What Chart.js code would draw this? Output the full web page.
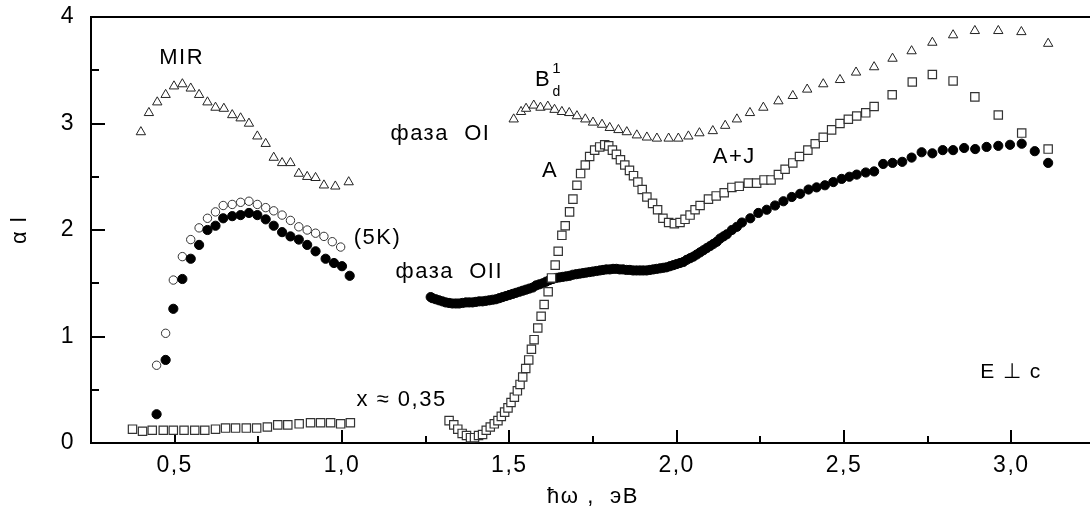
<!DOCTYPE html>
<html><head><meta charset="utf-8">
<script src="https://cdn.jsdelivr.net/npm/chart.js@4.4.0/dist/chart.umd.min.js"></script>
<style>
html,body{margin:0;padding:0;background:#fff;overflow:hidden;}
#wrap{position:relative;width:1100px;height:515px;}
</style></head><body>
<div id="wrap"><canvas id="c"></canvas></div>
<script>
// ---- tick values / labels ----
const xTickValues = [0.5, 1.0, 1.5, 2.0, 2.5, 3.0];
const xTickLabels = ['0,5', '1,0', '1,5', '2,0', '2,5', '3,0'];
const xMinorTicks = [0.75, 1.25, 1.75, 2.25, 2.75];
const yTickValues = [0, 1, 2, 3, 4];
const yTickLabels = ['0', '1', '2', '3', '4'];
const yMinorTicks = [0.5, 1.5, 2.5, 3.5];

// ---- series (x = ħω in eV, y = αl) ----
const trianglePoints = [
  [0.399,2.92],[0.423,3.10],[0.448,3.20],[0.473,3.27],[0.498,3.35],[0.523,3.37],[0.548,3.33],
  [0.573,3.27],[0.598,3.20],[0.622,3.15],[0.647,3.14],[0.672,3.08],[0.697,3.05],[0.722,3.00],
  [0.747,2.88],[0.772,2.81],[0.796,2.68],[0.821,2.63],[0.846,2.63],[0.871,2.53],[0.896,2.50],
  [0.921,2.49],[0.946,2.42],[0.980,2.41],[1.020,2.45],
  [1.513,3.04],[1.535,3.11],[1.550,3.14],[1.573,3.17],[1.593,3.15],[1.615,3.16],[1.635,3.13],
  [1.657,3.11],[1.679,3.10],[1.702,3.07],[1.727,3.04],[1.750,3.01],[1.777,2.99],[1.800,2.96],
  [1.826,2.94],[1.851,2.92],[1.881,2.89],[1.911,2.87],[1.941,2.86],[1.976,2.86],[2.005,2.86],
  [2.035,2.88],[2.068,2.91],[2.108,2.93],[2.145,2.98],[2.180,3.04],[2.219,3.10],[2.259,3.15],
  [2.304,3.21],[2.347,3.26],[2.390,3.32],[2.438,3.37],[2.488,3.41],[2.536,3.48],[2.590,3.53],
  [2.645,3.61],[2.702,3.68],[2.764,3.76],[2.826,3.83],[2.891,3.87],[2.961,3.87],[3.030,3.86],
  [3.110,3.75]
];
const openCirclePoints = [
  [0.446,0.73],[0.473,1.03],[0.496,1.53],[0.523,1.75],[0.548,1.91],[0.573,2.02],[0.598,2.11],
  [0.622,2.17],[0.645,2.23],[0.672,2.24],[0.697,2.26],[0.722,2.27],[0.747,2.24],[0.772,2.21],
  [0.796,2.18],[0.821,2.14],[0.846,2.09],[0.871,2.03],[0.896,2.00],[0.921,1.97],[0.946,1.94],
  [0.971,1.89],[0.996,1.84]
];
const filledCircle5KPoints = [
  [0.446,0.27],[0.473,0.78],[0.496,1.26],[0.523,1.54],[0.548,1.73],[0.573,1.86],[0.598,2.00],
  [0.622,2.04],[0.645,2.11],[0.672,2.13],[0.697,2.14],[0.722,2.16],[0.747,2.14],[0.772,2.10],
  [0.796,2.04],[0.821,1.98],[0.846,1.94],[0.871,1.91],[0.896,1.86],[0.921,1.80],[0.951,1.73],
  [0.976,1.69],[1.000,1.66],[1.023,1.57]
];
const filledCircleOIIPoints = [
  [1.265,1.37],[1.27,1.36],[1.28,1.35],[1.29,1.34],[1.30,1.33],[1.31,1.32],[1.32,1.315],[1.33,1.31],
  [1.34,1.31],[1.35,1.31],[1.36,1.315],[1.37,1.32],[1.38,1.32],[1.39,1.32],[1.40,1.325],[1.41,1.33],
  [1.42,1.33],[1.43,1.335],[1.44,1.34],[1.45,1.345],[1.46,1.35],[1.47,1.36],[1.48,1.37],[1.49,1.38],
  [1.50,1.39],[1.51,1.40],[1.52,1.41],[1.53,1.42],[1.54,1.43],[1.55,1.44],[1.56,1.45],[1.57,1.46],
  [1.58,1.48],[1.59,1.49],[1.60,1.50],[1.61,1.515],[1.62,1.53],[1.63,1.54],[1.64,1.55],[1.65,1.555],
  [1.66,1.56],[1.67,1.565],[1.68,1.57],[1.69,1.58],[1.70,1.585],[1.71,1.59],[1.72,1.595],[1.73,1.60],
  [1.74,1.605],[1.75,1.61],[1.76,1.615],[1.77,1.62],[1.78,1.625],[1.79,1.63],[1.80,1.63],[1.81,1.635],
  [1.82,1.635],[1.83,1.63],[1.84,1.63],[1.85,1.625],[1.86,1.625],[1.87,1.62],[1.88,1.62],[1.89,1.62],
  [1.90,1.62],[1.91,1.62],[1.92,1.625],[1.93,1.63],[1.94,1.635],[1.95,1.64],[1.96,1.645],[1.97,1.65],
  [1.98,1.66],[1.99,1.67],[2.00,1.68],[2.01,1.69],[2.02,1.70],[2.03,1.72],[2.04,1.735],[2.05,1.75],
  [2.06,1.77],[2.07,1.79],[2.08,1.81],[2.09,1.83],[2.10,1.85],[2.11,1.87],[2.12,1.89],[2.13,1.92],
  [2.14,1.94],[2.15,1.96],[2.165,2.00],[2.18,2.03],[2.195,2.07],[2.22,2.11],[2.244,2.16],[2.269,2.19],
  [2.294,2.23],[2.319,2.27],[2.344,2.31],[2.369,2.34],[2.394,2.38],[2.418,2.40],[2.443,2.42],
  [2.468,2.45],[2.493,2.48],[2.516,2.50],[2.538,2.52],[2.565,2.54],[2.590,2.55],[2.617,2.62],
  [2.645,2.63],[2.674,2.64],[2.702,2.68],[2.732,2.73],[2.764,2.72],[2.795,2.75],[2.826,2.75],
  [2.859,2.77],[2.892,2.76],[2.926,2.78],[2.961,2.79],[2.996,2.80],[3.031,2.81],[3.070,2.74],
  [3.110,2.63]
];
const squarePoints = [
  [0.374,0.13],[0.404,0.11],[0.433,0.12],[0.466,0.12],[0.496,0.12],[0.528,0.12],[0.560,0.12],
  [0.590,0.12],[0.622,0.13],[0.652,0.14],[0.682,0.14],[0.714,0.14],[0.745,0.14],[0.777,0.15],
  [0.808,0.17],[0.838,0.17],[0.872,0.18],[0.906,0.19],[0.936,0.19],[0.966,0.19],[0.996,0.18],
  [1.025,0.19],
  [1.320,0.21],[1.334,0.17],[1.346,0.13],[1.359,0.09],[1.372,0.07],[1.384,0.05],[1.396,0.05],
  [1.408,0.07],[1.420,0.08],[1.431,0.12],[1.443,0.15],[1.455,0.18],[1.466,0.21],[1.476,0.25],
  [1.486,0.29],[1.496,0.33],[1.505,0.38],[1.515,0.43],[1.524,0.49],[1.532,0.55],[1.540,0.62],
  [1.549,0.70],[1.558,0.78],[1.566,0.88],[1.574,0.97],[1.585,1.08],[1.595,1.19],[1.604,1.30],
  [1.616,1.42],[1.626,1.55],[1.637,1.67],[1.646,1.80],[1.657,1.95],[1.667,2.04],[1.680,2.17],
  [1.690,2.29],[1.702,2.42],[1.713,2.53],[1.727,2.61],[1.740,2.69],[1.755,2.75],[1.770,2.78],
  [1.785,2.80],[1.797,2.79],[1.808,2.75],[1.820,2.71],[1.832,2.66],[1.845,2.61],[1.859,2.56],
  [1.871,2.51],[1.884,2.45],[1.897,2.38],[1.911,2.31],[1.928,2.25],[1.943,2.19],[1.959,2.11],
  [1.976,2.07],[1.993,2.06],[2.010,2.07],[2.025,2.10],[2.040,2.14],[2.055,2.19],[2.070,2.23],
  [2.095,2.29],[2.118,2.32],[2.142,2.35],[2.165,2.40],[2.187,2.41],[2.214,2.44],[2.239,2.44],
  [2.261,2.47],[2.282,2.47],[2.304,2.52],[2.324,2.57],[2.347,2.63],[2.367,2.69],[2.392,2.75],
  [2.414,2.81],[2.438,2.87],[2.463,2.94],[2.488,3.00],[2.513,3.04],[2.538,3.07],[2.565,3.10],
  [2.590,3.16],[2.644,3.27],[2.704,3.39],[2.764,3.46],[2.826,3.40],[2.891,3.25],[2.961,3.08],
  [3.031,2.91],[3.110,2.76]
];

// ---- annotation texts (position in data units) ----
const annotations = [
  {text:'MIR', x:0.521, y:3.615, size:22, align:'center'},
  {text:'B', x:1.601, y:3.408, size:22, align:'center'},
  {text:'1', x:1.643, y:3.51, size:15, align:'center'},
  {text:'d', x:1.643, y:3.29, size:14, align:'center'},
  {text:'фаза  OI', x:1.145, y:2.90, size:22, align:'left'},
  {text:'A', x:1.622, y:2.554, size:22, align:'center'},
  {text:'A+J', x:2.172, y:2.685, size:22, align:'center'},
  {text:'(5K)', x:1.106, y:1.925, size:22, align:'center'},
  {text:'фаза  OII', x:1.160, y:1.606, size:22, align:'left'},
  {text:'x ≈ 0,35', x:1.178, y:0.404, size:22, align:'center'},
  {text:'E ⊥ c', x:2.999, y:0.667, size:21, align:'center'}
];

const FONT = "'Liberation Sans', Arial, Helvetica, sans-serif";
Chart.defaults.font.family = FONT;
Chart.defaults.color = '#000';

const toXY = pts => pts.map(p => ({x: p[0], y: p[1]}));

const framePlugin = {
  id: 'frame',
  beforeLayout(chart) { chart.ctx.letterSpacing = '1.5px'; },
  beforeDraw(chart) { chart.ctx.letterSpacing = '1.5px'; },
  beforeDatasetsDraw(chart) {
    const {ctx, chartArea: a, scales: {x, y}} = chart;
    ctx.save();
    ctx.strokeStyle = '#000';
    ctx.lineWidth = 2;
    ctx.beginPath();
    xTickValues.forEach(v => { const p = Math.round(x.getPixelForValue(v)); ctx.moveTo(p, a.bottom); ctx.lineTo(p, a.bottom - 13); });
    xMinorTicks.forEach(v => { const p = Math.round(x.getPixelForValue(v)); ctx.moveTo(p, a.bottom); ctx.lineTo(p, a.bottom - 7); });
    yTickValues.forEach(v => { const p = Math.round(y.getPixelForValue(v)); ctx.moveTo(a.left, p); ctx.lineTo(a.left + 14, p); });
    yMinorTicks.forEach(v => { const p = Math.round(y.getPixelForValue(v)); ctx.moveTo(a.left, p); ctx.lineTo(a.left + 8, p); });
    ctx.stroke();
    ctx.restore();
  },
  afterDatasetsDraw(chart) {
    const {ctx, scales: {x, y}} = chart;
    ctx.save();
    ctx.fillStyle = '#000';
    ctx.textBaseline = 'middle';
    ctx.letterSpacing = '1.5px';
    annotations.forEach(t => {
      ctx.font = t.size + 'px ' + FONT;
      ctx.textAlign = t.align;
      ctx.fillText(t.text, x.getPixelForValue(t.x), y.getPixelForValue(t.y));
    });
    ctx.restore();
  },
  afterDraw(chart) {
    const {ctx, chartArea: a} = chart;
    ctx.save();
    ctx.fillStyle = '#000';
    ctx.fillRect(a.left - 1, Math.round(a.top) - 1, chart.width - a.left + 1, 2);
    ctx.restore();
  }
};

new Chart(document.getElementById('c'), {
  type: 'scatter',
  data: {
    datasets: [
      {label: 'squares', data: toXY(squarePoints), pointStyle: 'rect', pointRadius: 5.9,
       pointBorderWidth: 1.2, pointBorderColor: '#333', pointBackgroundColor: '#fff', showLine: false},
      {label: 'triangles', data: toXY(trianglePoints), pointStyle: 'triangle', pointRadius: 5.4,
       pointBorderWidth: 1, pointBorderColor: '#222', pointBackgroundColor: '#fff', showLine: false},
      {label: 'OII', data: toXY(filledCircleOIIPoints), pointStyle: 'circle', pointRadius: 4.6,
       pointBorderWidth: 1, pointBorderColor: '#000', pointBackgroundColor: '#000', showLine: false},
      {label: '5K', data: toXY(filledCircle5KPoints), pointStyle: 'circle', pointRadius: 4.6,
       pointBorderWidth: 1, pointBorderColor: '#000', pointBackgroundColor: '#000', showLine: false},
      {label: 'open', data: toXY(openCirclePoints), pointStyle: 'circle', pointRadius: 4.2,
       pointBorderWidth: 1, pointBorderColor: '#333', pointBackgroundColor: '#fff', showLine: false}
    ]
  },
  options: {
    responsive: true,
    maintainAspectRatio: false,
    animation: false,
    events: [],
    layout: {autoPadding: false, padding: {top: 17, right: 5, left: 0, bottom: 0}},
    plugins: {legend: {display: false}, tooltip: {enabled: false}},
    scales: {
      x: {
        type: 'linear', min: 0.25, max: 3.25,
        afterBuildTicks: s => { s.ticks = xTickValues.map(v => ({value: v})); },
        afterFit: s => { s.height = 72; s.paddingLeft = 0; s.paddingRight = 0; },
        grid: {display: false, drawTicks: false},
        border: {display: true, color: '#000', width: 2},
        ticks: {color: '#000', font: {size: 23}, padding: 9, maxRotation: 0, autoSkip: false,
                callback: (v) => { const i = xTickValues.indexOf(v); return i >= 0 ? xTickLabels[i] : ''; }},
        title: {display: true, text: 'ħω ,  эВ', color: '#000', font: {size: 22}, padding: {top: 0, bottom: 5}}
      },
      y: {
        type: 'linear', min: 0, max: 4,
        afterBuildTicks: s => { s.ticks = yTickValues.map(v => ({value: v})); },
        afterFit: s => { s.width = 91; s.paddingTop = 0; s.paddingBottom = 0; },
        grid: {display: false, drawTicks: false},
        border: {display: true, color: '#000', width: 2},
        ticks: {color: '#000', font: {size: 23}, padding: 16,
                callback: (v) => { const i = yTickValues.indexOf(v); return i >= 0 ? yTickLabels[i] : ''; }},
        title: {display: true, text: 'α l', color: '#000', font: {size: 22}, padding: {top: 7, bottom: 0}}
      }
    }
  },
  plugins: [framePlugin]
});
</script>
</body></html>
